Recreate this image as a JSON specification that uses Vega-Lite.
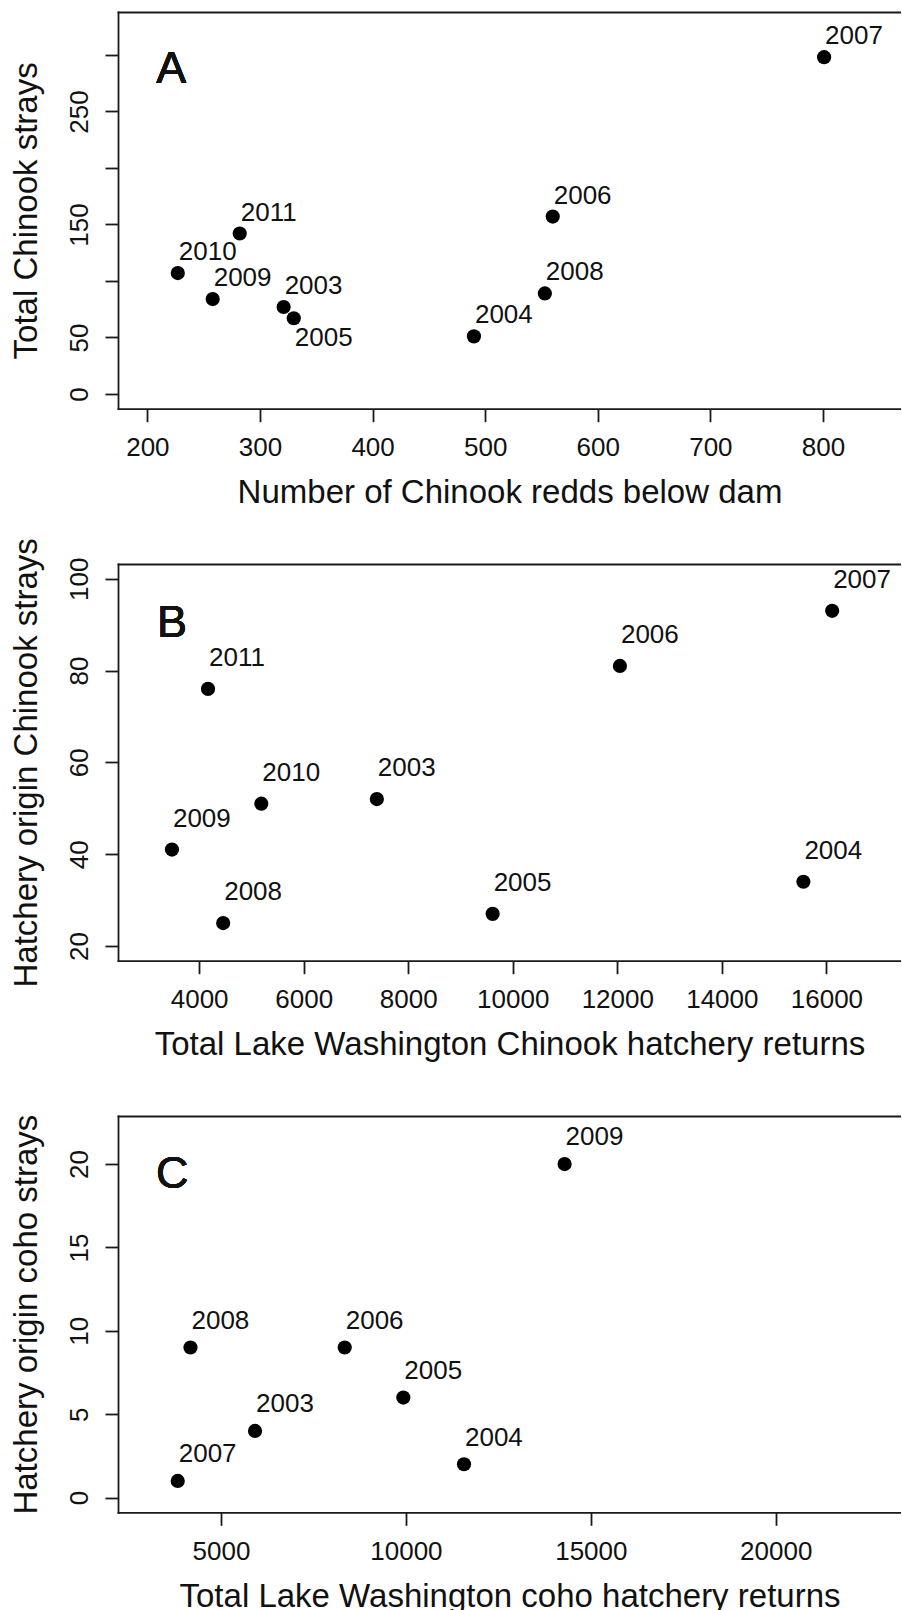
{
  "$schema": "https://vega.github.io/schema/vega-lite/v6.json",
  "background": "white",
  "padding": {"left": 10, "top": 12, "right": 0, "bottom": 0},
  "spacing": 155,
  "bounds": "flush",
  "config": {
    "view": {"stroke": null},
    "font": "Liberation Sans",
    "axis": {
      "grid": false,
      "domainColor": "#1a1a1a", "domainWidth": 1.8, "domainCap": "square",
      "tickColor": "#1a1a1a", "tickWidth": 1.8, "tickSize": 13,
      "labelFont": "Liberation Sans", "labelFontSize": 26, "labelColor": "#111",
      "labelOverlap": false, "labelFlush": false,
      "titleFont": "Liberation Sans", "titleFontSize": 33, "titleFontWeight": "normal", "titleColor": "#111"
    },
    "axisX": {"labelPadding": 13, "titlePadding": 16},
    "axisY": {"labelPadding": 12.5, "labelAngle": -90, "labelAlign": "center", "labelBaseline": "bottom", "titlePadding": 23.5}
  },
  "vconcat": [
    {
      "width": 783, "height": 396.7,
      "data": {"values": [
        {"year": "2003", "x": 321, "y": 77},
        {"year": "2004", "x": 490, "y": 51},
        {"year": "2005", "x": 330, "y": 67},
        {"year": "2006", "x": 560, "y": 157},
        {"year": "2007", "x": 801, "y": 298},
        {"year": "2008", "x": 553, "y": 89},
        {"year": "2009", "x": 258, "y": 84},
        {"year": "2010", "x": 227, "y": 107},
        {"year": "2011", "x": 282, "y": 142}
      ]},
      "resolve": {"axis": {"x": "independent"}},
      "layer": [
        {
          "mark": {"type": "circle", "size": 201, "color": "#000", "opacity": 1},
          "encoding": {
            "x": {"field": "x", "type": "quantitative", "scale": {"domain": [173.9, 869.3], "nice": false, "zero": false},
                  "axis": {"orient": "bottom", "values": [200, 300, 400, 500, 600, 700, 800], "format": "d", "title": "Number of Chinook redds below dam"}},
            "y": {"field": "y", "type": "quantitative", "scale": {"domain": [-13, 338], "nice": false, "zero": false},
                  "axis": {"values": [0, 50, 100, 150, 200, 250, 300], "format": "d", "labelExpr": "(datum.value % 100 == 0 && datum.value > 0) ? '' : datum.label", "title": "Total Chinook strays"}}
          }
        },
        {
          "transform": [{"filter": "datum.year != '2005'"}],
          "mark": {"type": "text", "align": "left", "baseline": "alphabetic", "dx": 1, "dy": -13, "fontSize": 26, "color": "#111"},
          "encoding": {
            "x": {"field": "x", "type": "quantitative", "axis": null},
            "y": {"field": "y", "type": "quantitative"},
            "text": {"field": "year", "type": "nominal"}
          }
        },
        {
          "transform": [{"filter": "datum.year == '2005'"}],
          "mark": {"type": "text", "align": "left", "baseline": "alphabetic", "dx": 1, "dy": 28, "fontSize": 26, "color": "#111"},
          "encoding": {
            "x": {"field": "x", "type": "quantitative", "axis": null},
            "y": {"field": "y", "type": "quantitative"},
            "text": {"field": "year", "type": "nominal"}
          }
        },
        {
          "mark": {"type": "text", "align": "left", "baseline": "alphabetic", "fontSize": 45, "color": "#111"},
          "encoding": {
            "x": {"datum": 207.9, "type": "quantitative", "axis": {"orient": "top", "labels": false, "ticks": false, "title": null, "domain": true}},
            "y": {"datum": 275, "type": "quantitative"},
            "text": {"value": "A"}
          }
        }
      ]
    },
    {
      "width": 783, "height": 396.7,
      "data": {"values": [
        {"year": "2003", "x": 7400, "y": 52},
        {"year": "2004", "x": 15560, "y": 34},
        {"year": "2005", "x": 9615, "y": 27},
        {"year": "2006", "x": 12050, "y": 81},
        {"year": "2007", "x": 16110, "y": 93},
        {"year": "2008", "x": 4460, "y": 25},
        {"year": "2009", "x": 3480, "y": 41},
        {"year": "2010", "x": 5190, "y": 51},
        {"year": "2011", "x": 4170, "y": 76}
      ]},
      "resolve": {"axis": {"x": "independent"}},
      "layer": [
        {
          "mark": {"type": "circle", "size": 201, "color": "#000", "opacity": 1},
          "encoding": {
            "x": {"field": "x", "type": "quantitative", "scale": {"domain": [2448, 17427], "nice": false, "zero": false},
                  "axis": {"orient": "bottom", "values": [4000, 6000, 8000, 10000, 12000, 14000, 16000], "format": "d", "title": "Total Lake Washington Chinook hatchery returns"}},
            "y": {"field": "y", "type": "quantitative", "scale": {"domain": [16.8, 103.2], "nice": false, "zero": false},
                  "axis": {"values": [20, 40, 60, 80, 100], "format": "d", "title": "Hatchery origin Chinook strays"}}
          }
        },
        {
          "mark": {"type": "text", "align": "left", "baseline": "alphabetic", "dx": 1, "dy": -22.7, "fontSize": 26, "color": "#111"},
          "encoding": {
            "x": {"field": "x", "type": "quantitative", "axis": null},
            "y": {"field": "y", "type": "quantitative"},
            "text": {"field": "year", "type": "nominal"}
          }
        },
        {
          "mark": {"type": "text", "align": "left", "baseline": "alphabetic", "fontSize": 45, "color": "#111"},
          "encoding": {
            "x": {"datum": 3196, "type": "quantitative", "axis": {"orient": "top", "labels": false, "ticks": false, "title": null, "domain": true}},
            "y": {"datum": 87.4, "type": "quantitative"},
            "text": {"value": "B"}
          }
        }
      ]
    },
    {
      "width": 783, "height": 396.3,
      "data": {"values": [
        {"year": "2003", "x": 5920, "y": 4},
        {"year": "2004", "x": 11570, "y": 2},
        {"year": "2005", "x": 9930, "y": 6},
        {"year": "2006", "x": 8345, "y": 9},
        {"year": "2007", "x": 3830, "y": 1},
        {"year": "2008", "x": 4175, "y": 9},
        {"year": "2009", "x": 14290, "y": 20}
      ]},
      "resolve": {"axis": {"x": "independent"}},
      "layer": [
        {
          "mark": {"type": "circle", "size": 201, "color": "#000", "opacity": 1},
          "encoding": {
            "x": {"field": "x", "type": "quantitative", "scale": {"domain": [2215, 23386], "nice": false, "zero": false},
                  "axis": {"orient": "bottom", "values": [5000, 10000, 15000, 20000], "format": "d", "title": "Total Lake Washington coho hatchery returns"}},
            "y": {"field": "y", "type": "quantitative", "scale": {"domain": [-0.88, 22.88], "nice": false, "zero": false},
                  "axis": {"values": [0, 5, 10, 15, 20], "format": "d", "title": "Hatchery origin coho strays"}}
          }
        },
        {
          "mark": {"type": "text", "align": "left", "baseline": "alphabetic", "dx": 1, "dy": -18.7, "fontSize": 26, "color": "#111"},
          "encoding": {
            "x": {"field": "x", "type": "quantitative", "axis": null},
            "y": {"field": "y", "type": "quantitative"},
            "text": {"field": "year", "type": "nominal"}
          }
        },
        {
          "mark": {"type": "text", "align": "left", "baseline": "alphabetic", "fontSize": 45, "color": "#111"},
          "encoding": {
            "x": {"datum": 3240, "type": "quantitative", "axis": {"orient": "top", "labels": false, "ticks": false, "title": null, "domain": true}},
            "y": {"datum": 18.56, "type": "quantitative"},
            "text": {"value": "C"}
          }
        }
      ]
    }
  ]
}
